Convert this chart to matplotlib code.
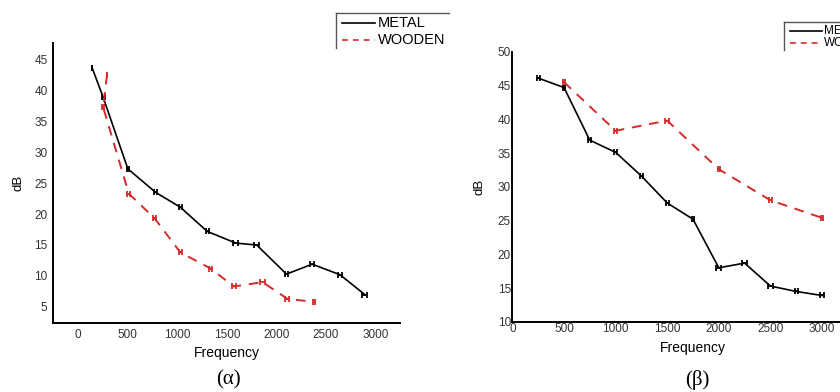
import matplotlib.pyplot as plt
from matplotlib.lines import Line2D

plt.rcParams['font.family'] = ['Liberation Sans', 'DejaVu Sans']

# (α) data
freq_metal_a = [140, 250, 500, 780, 1030, 1300, 1590, 1800, 2100, 2360, 2640, 2890]
db_metal_a = [43.6, 38.9, 27.3, 23.5, 21.1, 17.2, 15.3, 15.0, 10.3, 11.9, 10.2, 7.0]
err_metal_a = [0, 15, 8, 12, 12, 15, 25, 25, 12, 20, 20, 25]

freq_wood_a = [290, 250, 510, 770, 1030, 1335, 1570, 1860, 2110, 2380]
db_wood_a = [42.5, 37.3, 23.3, 19.3, 13.8, 11.2, 8.3, 9.0, 6.3, 5.8]
err_wood_a = [0, 12, 15, 15, 15, 15, 20, 25, 20, 8]

# (β) data
freq_metal_b = [250, 500, 750, 1000, 1250, 1500, 1750, 2000, 2250, 2500, 2750, 3000]
db_metal_b = [46.1, 44.7, 36.9, 35.1, 31.6, 27.6, 25.2, 18.0, 18.7, 15.3, 14.5, 13.9]
err_metal_b = [15, 12, 15, 15, 15, 15, 12, 25, 25, 25, 15, 15]

freq_wood_b = [500, 1000, 1500, 2000, 2500, 3000]
db_wood_b = [45.5, 38.3, 39.8, 32.6, 28.0, 25.4]
err_wood_b = [8, 12, 20, 12, 12, 8]

xticks = [0, 500, 1000, 1500, 2000, 2500, 3000]
red = '#d42a2a'

fig = plt.figure(figsize=(8.4, 3.92), dpi=100)
ax1 = fig.add_axes([0.0631, 0.176, 0.413, 0.714])
ax2 = fig.add_axes([0.610, 0.179, 0.43, 0.689])


def style(ax):
    for s in ['top', 'right']:
        ax.spines[s].set_visible(False)
    for s in ['left', 'bottom']:
        ax.spines[s].set_linewidth(1.4)
    ax.tick_params(length=0, labelsize=8.5, labelcolor='#333333', pad=4)
    ax.set_xticks(xticks)
    ax.set_xlabel('Frequency', fontsize=10, labelpad=4)
    ax.set_ylabel('dB', fontsize=9.5)


# (α)
ax1.errorbar(freq_metal_a, db_metal_a, xerr=err_metal_a, color='black', lw=1.2,
             capsize=2.5, elinewidth=1.3, capthick=1.3)
ax1.errorbar(freq_wood_a, db_wood_a, xerr=err_wood_a, color=red, lw=1.4,
             ls=(0, (5, 4)), capsize=2.5, elinewidth=1.3, capthick=1.3)
ax1.set_xlim(-255, 3245)
ax1.set_ylim(2.4, 47.6)
ax1.set_yticks([5, 10, 15, 20, 25, 30, 35, 40, 45])
style(ax1)
ax1.yaxis.labelpad = 7

# (β)
ax2.errorbar(freq_metal_b, db_metal_b, xerr=err_metal_b, color='black', lw=1.2,
             capsize=2.5, elinewidth=1.3, capthick=1.3)
ax2.errorbar(freq_wood_b, db_wood_b, xerr=err_wood_b, color=red, lw=1.4,
             ls=(0, (5, 4)), capsize=2.5, elinewidth=1.3, capthick=1.3)
ax2.set_xlim(0, 3500)
ax2.set_ylim(10, 50)
ax2.set_yticks([10, 15, 20, 25, 30, 35, 40, 45, 50])
style(ax2)
ax2.yaxis.labelpad = 9
ax2.tick_params(axis='y', pad=1)
ax2.tick_params(axis='x', pad=1)


# legends (cropped boxes as in the source figure)
def px(x, y):
    return x / 840, 1 - y / 392


def legend(x0, y0, y1, xr, rows, lx0, lx1, tx, size):
    fig.add_artist(Line2D(*zip(px(x0, y0), px(xr, y0)), color='#555555', lw=1.0))
    fig.add_artist(Line2D(*zip(px(x0, y0), px(x0, y1)), color='#555555', lw=1.0))
    for yy, label, col, ls in rows:
        fig.add_artist(Line2D(*zip(px(lx0, yy), px(lx1, yy)), color=col, lw=1.2, ls=ls))
        fig.text(*px(tx, yy), label, fontsize=size, va='center', ha='left')


rows_a = [(23, 'METAL', 'black', '-'), (40, 'WOODEN', red, (0, (3.5, 3)))]
legend(336, 13, 48, 449, rows_a, 342, 375, 378, 10.5)
rows_b = [(31, 'METAL', 'black', '-'), (43, 'WOODEN', red, (0, (3.5, 3)))]
legend(784, 22, 50, 845, rows_b, 790, 822, 824, 8.5)

fig.text(*px(228, 380), '(α)', fontsize=15, family='Liberation Serif', ha='center', va='center')
fig.text(*px(697, 380), '(β)', fontsize=15, family='Liberation Serif', ha='center', va='center')

fig.savefig('out.png', dpi=100)
